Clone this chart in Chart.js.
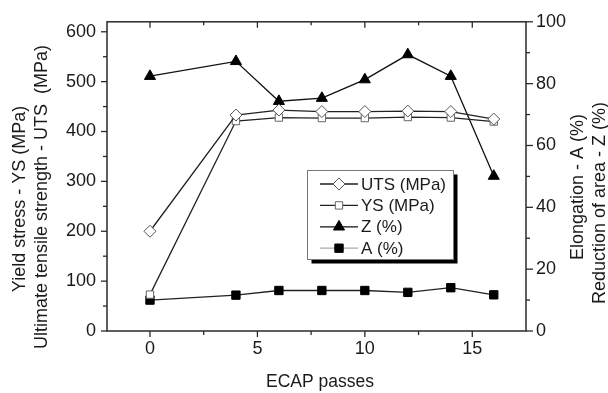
<!DOCTYPE html>
<html>
<head>
<meta charset="utf-8">
<script src="https://cdn.jsdelivr.net/npm/chart.js@4/dist/chart.umd.min.js"></script>
<style>
    html, body { margin: 0; padding: 0; background: #fff; }
    canvas { display: block; }
</style>
</head>
<body>
<canvas id="ecapChart" width="608" height="393"></canvas>
<script>
// ECAP 道次
const passes = [0, 4, 6, 8, 10, 12, 14, 16];

// 左轴 (MPa)
const utsValues = [200, 433, 443, 440, 440, 441, 440, 425];
const ysValues = [73, 421, 428, 427, 427, 429, 428, 420];

// 右轴 (%)
const zValues = [82.4, 87.2, 74.3, 75.3, 81.3, 89.4, 82.4, 50.1];
const aValues = [10, 11.6, 13.1, 13.1, 13.1, 12.5, 14, 11.7];

// 刻度
const passTicks = [0, 5, 10, 15];
const passMinorTicks = [2.5, 7.5, 12.5];
const strengthTicks = [0, 100, 200, 300, 400, 500, 600];
const strengthMinorTicks = [50, 150, 250, 350, 450, 550];
const percentTicks = [0, 20, 40, 60, 80, 100];
const percentMinorTicks = [10, 30, 50, 70, 90];

const seriesLabels = ['UTS (MPa)', 'YS (MPa)', 'Z (%)', 'A (%)'];

const textColor = '#1a1a1a';
const frameColor = '#2a2a2a';
const fontFamily = '"Liberation Sans", Arial, sans-serif';

function toPoints(values) {
    return passes.map((p, i) => ({ x: p, y: values[i] }));
}

function tick(ctx, x1, y1, x2, y2) {
    ctx.beginPath();
    ctx.moveTo(x1, y1);
    ctx.lineTo(x2, y2);
    ctx.stroke();
}

// 边框 + 主/次刻度
const frameTicks = {
    id: 'frameTicks',
    beforeDatasetsDraw(chart) {
        const { ctx, chartArea: a, scales } = chart;
        ctx.save();
        ctx.strokeStyle = frameColor;
        ctx.lineWidth = 1.5;
        ctx.strokeRect(a.left, a.top, a.right - a.left, a.bottom - a.top);

        ctx.lineWidth = 1.3;
        passTicks.forEach(v => {
            const x = scales.x.getPixelForValue(v);
            tick(ctx, x, a.bottom, x, a.bottom + 6);
            tick(ctx, x, a.top, x, a.top + 6);
        });
        passMinorTicks.forEach(v => {
            const x = scales.x.getPixelForValue(v);
            tick(ctx, x, a.bottom, x, a.bottom + 4);
            tick(ctx, x, a.top, x, a.top + 3.5);
        });
        strengthTicks.forEach(v => {
            const y = scales.y.getPixelForValue(v);
            tick(ctx, a.left, y, a.left - 6, y);
        });
        strengthMinorTicks.forEach(v => {
            const y = scales.y.getPixelForValue(v);
            tick(ctx, a.left, y, a.left - 4, y);
        });
        percentTicks.forEach(v => {
            const y = scales.y1.getPixelForValue(v);
            tick(ctx, a.right, y, a.right + 7, y);
        });
        percentMinorTicks.forEach(v => {
            const y = scales.y1.getPixelForValue(v);
            tick(ctx, a.right, y, a.right + 4, y);
        });
        ctx.restore();
    }
};

// 坐标轴标题（两行旋转文字）
const axisTitles = {
    id: 'axisTitles',
    afterDraw(chart) {
        const ctx = chart.ctx;
        ctx.save();
        ctx.fillStyle = textColor;
        ctx.font = '18px ' + fontFamily;
        ctx.textAlign = 'center';
        ctx.textBaseline = 'alphabetic';

        const rotated = [
            ['Yield stress - YS (MPa)', 25, 199],
            ['Ultimate tensile strength - UTS  (MPa)', 47, 197],
            ['Elongation - A (%)', 583, 187],
            ['Reduction of area - Z (%)', 605, 203]
        ];
        rotated.forEach(([text, x, y]) => {
            ctx.save();
            ctx.translate(x, y);
            ctx.rotate(-Math.PI / 2);
            ctx.fillText(text, 0, 0);
            ctx.restore();
        });

        ctx.font = '17.5px ' + fontFamily;
        ctx.fillText('ECAP passes', 320, 387);
        ctx.restore();
    }
};

// 图例（带阴影的方框）
const boxLegend = {
    id: 'boxLegend',
    afterDraw(chart) {
        const ctx = chart.ctx;
        const box = { x: 307.5, y: 170.5, w: 146, h: 89 };
        ctx.save();
        ctx.fillStyle = '#000';
        ctx.fillRect(box.x + 4, box.y + 4, box.w, box.h);
        ctx.fillStyle = '#fff';
        ctx.fillRect(box.x, box.y, box.w, box.h);
        ctx.strokeStyle = '#777';
        ctx.lineWidth = 1;
        ctx.strokeRect(box.x, box.y, box.w, box.h);

        ctx.font = '17px ' + fontFamily;
        ctx.textBaseline = 'middle';
        ctx.textAlign = 'left';
        chart.data.datasets.forEach((ds, i) => {
            const y = 184 + i * 21.4;
            ctx.strokeStyle = ds.legendLineColor || ds.borderColor;
            ctx.lineWidth = ds.borderWidth;
            tick(ctx, 320, y, 358, y);
            ctx.fillStyle = ds.pointBackgroundColor;
            ctx.strokeStyle = ds.pointBorderColor;
            ctx.lineWidth = ds.pointBorderWidth;
            Chart.helpers.drawPoint(ctx, {
                pointStyle: ds.pointStyle,
                radius: ds.pointRadius,
                rotation: 0,
                borderWidth: ds.pointBorderWidth
            }, 339, y);
            ctx.fillStyle = textColor;
            ctx.fillText(ds.label, 361, y + 1);
        });
        ctx.restore();
    }
};

const ctx = document.getElementById('ecapChart').getContext('2d');

new Chart(ctx, {
    type: 'line',
    data: {
        datasets: [
            {
                label: seriesLabels[0],
                data: toPoints(utsValues),
                yAxisID: 'y',
                borderColor: '#222',
                borderWidth: 1.3,
                pointStyle: 'rectRot',
                pointRadius: 6,
                pointBackgroundColor: '#fff',
                pointBorderColor: '#555',
                pointBorderWidth: 1
            },
            {
                label: seriesLabels[1],
                data: toPoints(ysValues),
                yAxisID: 'y',
                borderColor: '#222',
                borderWidth: 1.3,
                pointStyle: 'rect',
                pointRadius: 5.2,
                pointBackgroundColor: '#fff',
                pointBorderColor: '#666',
                pointBorderWidth: 1
            },
            {
                label: seriesLabels[2],
                data: toPoints(zValues),
                yAxisID: 'y1',
                borderColor: '#111',
                borderWidth: 1.3,
                pointStyle: 'triangle',
                pointRadius: 6.4,
                pointBackgroundColor: '#000',
                pointBorderColor: '#000',
                pointBorderWidth: 1
            },
            {
                label: seriesLabels[3],
                data: toPoints(aValues),
                yAxisID: 'y1',
                borderColor: '#222',
                legendLineColor: '#aaa',
                borderWidth: 1.3,
                pointStyle: 'rect',
                pointRadius: 5.9,
                pointBackgroundColor: '#000',
                pointBorderColor: '#000',
                pointBorderWidth: 1
            }
        ]
    },
    options: {
        responsive: false,
        animation: false,
        layout: { padding: { top: 17, left: 0, right: 0, bottom: 0 } },
        plugins: {
            legend: { display: false },
            tooltip: { enabled: false }
        },
        scales: {
            x: {
                type: 'linear',
                position: 'bottom',
                min: -2,
                max: 17.5,
                grid: { display: false, drawTicks: false },
                border: { display: false },
                ticks: { color: textColor, font: { family: fontFamily, size: 18 }, padding: 7 },
                afterBuildTicks: s => { s.ticks = passTicks.map(v => ({ value: v })); },
                afterFit: s => { s.height = 62; }
            },
            y: {
                type: 'linear',
                position: 'left',
                min: 0,
                max: 620,
                grid: { display: false, drawTicks: false },
                border: { display: false },
                ticks: { color: textColor, font: { family: fontFamily, size: 18 }, padding: 11 },
                afterBuildTicks: s => { s.ticks = strengthTicks.map(v => ({ value: v })); },
                afterFit: s => { s.width = 107; }
            },
            y1: {
                type: 'linear',
                position: 'right',
                min: 0,
                max: 100,
                grid: { display: false, drawTicks: false },
                border: { display: false },
                ticks: { color: textColor, font: { family: fontFamily, size: 18 }, padding: 10 },
                afterBuildTicks: s => { s.ticks = percentTicks.map(v => ({ value: v })); },
                afterFit: s => { s.width = 82; }
            }
        }
    },
    plugins: [frameTicks, axisTitles, boxLegend]
});
</script>
</body>
</html>
